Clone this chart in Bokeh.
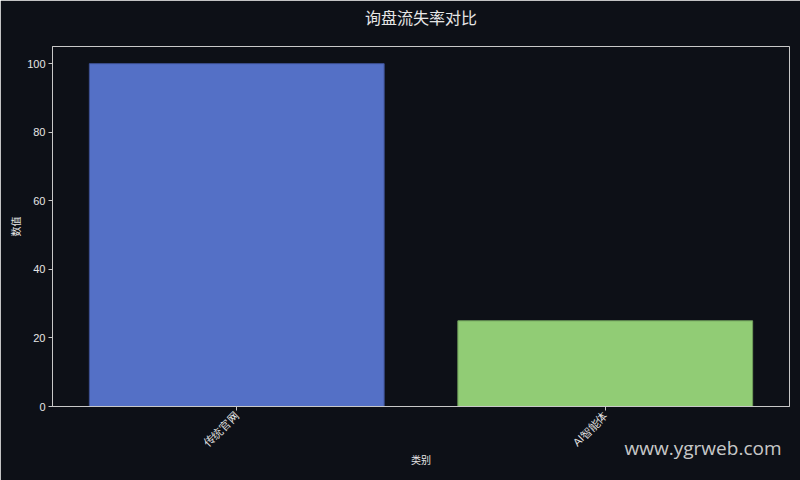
import math
from bokeh.plotting import figure
from bokeh.models import FactorRange, Range1d, Title, ColumnDataSource
from bokeh.embed import file_html
from bokeh.resources import INLINE

categories = ["传统官网", "AI智能体"]
values = [100, 25]
colors = ["#5470c6", "#91cc75"]
edge_colors = ["#3e5294", "#6f9e5a"]
title_text = "询盘流失率对比"
x_label = "类别"
y_label = "数值"
y_ticks = [0, 20, 40, 60, 80, 100]
watermark = "www.ygrweb.com"

BG = "#0d1017"
FG = "#e6e6e6"
AX = "#c8c8c8"
CJK = "Noto Sans CJK SC"
LAT = "Liberation Sans"

src = ColumnDataSource(dict(cat=categories, val=values, fill=colors, edge=edge_colors))

p = figure(
    width=800, height=480,
    x_range=FactorRange(*categories, range_padding=0.0),
    y_range=Range1d(0, 105),
    output_backend="svg", toolbar_location=None,
    background_fill_color=BG, border_fill_color=BG,
    min_border_left=52, min_border_right=11, min_border_top=46, min_border_bottom=74,
)
p.title_location = None

p.vbar(x="cat", top="val", width=0.8, source=src, fill_color="fill",
       line_color="edge", line_width=1)

# spacer (closest to frame) then the real title above it
spacer = Title(text=" ", text_font_size="1px", standoff=13, text_color=BG)
p.add_layout(spacer, "above")
main_title = Title(text=title_text, align="center", vertical_align="top", standoff=0,
                   text_color=FG, text_font=CJK, text_font_size="16px",
                   text_font_style="normal")
p.add_layout(main_title, "above")

p.outline_line_color = AX
p.outline_line_width = 1
p.xgrid.grid_line_color = None
p.ygrid.grid_line_color = None

for ax in (p.xaxis, p.yaxis):
    ax.axis_line_color = AX
    ax.major_tick_line_color = AX
    ax.major_tick_out = 4
    ax.major_tick_in = 0
    ax.minor_tick_line_color = None
    ax.major_label_text_color = FG
    ax.major_label_text_font = LAT
    ax.major_label_text_font_size = "11px"
    ax.axis_label_text_color = FG
    ax.axis_label_text_font = CJK
    ax.axis_label_text_font_size = "10px"
    ax.axis_label_text_font_style = "normal"

p.yaxis.ticker = y_ticks
p.yaxis.axis_label = y_label
p.yaxis.axis_label_standoff = 1
p.yaxis.major_label_standoff = 3
p.xaxis.axis_label = x_label
p.xaxis.major_label_orientation = math.pi / 4
p.xaxis.major_label_standoff = 3
p.xaxis.axis_label_standoff = -4

wm = Title(text=watermark, align="right", vertical_align="top", offset=8, standoff=-71,
           text_color="#e0e0e0", text_alpha=0.9, text_font="Open Sans",
           text_font_size="19px", text_font_style="normal")
p.add_layout(wm, "below")

open("out.html", "w").write(file_html(p, INLINE))
